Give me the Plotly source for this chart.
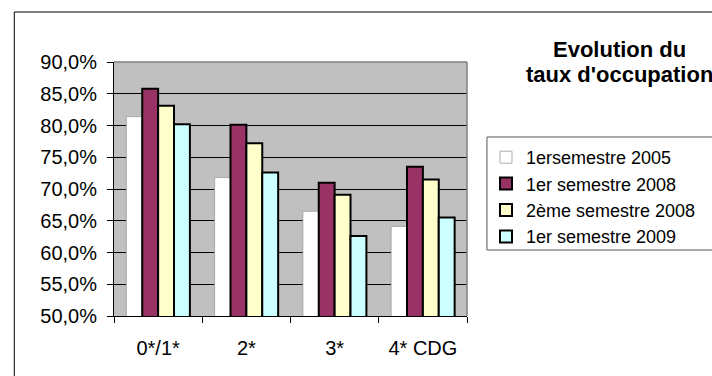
import plotly.graph_objects as go

# Hotel categories and occupancy rates (fractions) per period
categories = ["0*/1*", "2*", "3*", "4* CDG"]
series_names = ["1ersemestre 2005", "1er semestre 2008", "2ème semestre 2008", "1er semestre 2009"]
s2005_1 = [0.814, 0.718, 0.665, 0.641]
s2008_1 = [0.858, 0.801, 0.710, 0.735]
s2008_2 = [0.831, 0.772, 0.691, 0.715]
s2009_1 = [0.802, 0.726, 0.626, 0.655]
y_ticks = [0.50, 0.55, 0.60, 0.65, 0.70, 0.75, 0.80, 0.85, 0.90]
title_lines = ["Evolution du", "taux d'occupation"]

FONT = "Liberation Sans, Arial, sans-serif"
W, H = 712, 376
L, R, T, B = 114, 244, 62, 60
PW, PH = W - L - R, H - T - B


def px_x(x):
    return (x - L) / PW


def px_y(y):
    return (H - B - y) / PH


fills = ["#FFFFFF", "#993366", "#FFFFCC", "#CCFFFF"]
edges = ["#9A9A9A", "#000000", "#000000", "#000000"]
edge_w = [0.8, 2, 2, 2]
values = [s2005_1, s2008_1, s2008_2, s2009_1]

fig = go.Figure()
for name, vals, fc, ec, ew in zip(series_names, values, fills, edges, edge_w):
    fig.add_trace(go.Bar(
        x=categories, y=vals, name=name,
        marker=dict(color=fc, line=dict(color=ec, width=ew)),
        hoverinfo="skip",
    ))

shapes = [
    # outer chart frame
    dict(type="rect", xref="paper", yref="paper",
         x0=px_x(14), x1=px_x(760), y0=px_y(12), y1=px_y(420),
         line=dict(color="#000000", width=1), fillcolor="rgba(0,0,0,0)", layer="above"),
    # plot-area border (top and right)
    dict(type="line", xref="paper", yref="paper", x0=0, x1=1, y0=1, y1=1,
         line=dict(color="#808080", width=1.5), layer="above"),
    dict(type="line", xref="paper", yref="paper", x0=1, x1=1, y0=0, y1=1,
         line=dict(color="#808080", width=1.5), layer="above"),
    # legend box
    dict(type="rect", xref="paper", yref="paper",
         x0=px_x(488), x1=px_x(760), y0=px_y(250), y1=px_y(137),
         line=dict(color="#555555", width=1), fillcolor="rgba(0,0,0,0)", layer="above"),
]

# two-line bold title, right of the plot area
annotations = [
    dict(text="<b>%s</b>" % line, xref="paper", yref="paper",
         x=px_x(621), y=px_y(yc), xanchor="center", yanchor="middle",
         showarrow=False, font=dict(family=FONT, size=22, color="#000000"))
    for line, yc in zip(title_lines, [49, 74])
]

fig.update_layout(
    width=W, height=H,
    margin=dict(l=L, r=R, t=T, b=B, pad=0),
    paper_bgcolor="#FFFFFF",
    plot_bgcolor="#C0C0C0",
    barmode="group", bargap=0.28, bargroupgap=0,
    separators=", ",
    font=dict(family=FONT, color="#000000"),
    showlegend=True,
    legend=dict(
        x=px_x(486), y=px_y(139), xanchor="left", yanchor="top",
        font=dict(family=FONT, size=18, color="#000000"),
        bgcolor="rgba(0,0,0,0)", borderwidth=0,
        itemwidth=30, tracegroupgap=0,
    ),
    shapes=shapes,
    annotations=annotations,
)

fig.update_xaxes(
    type="category", tickson="boundaries",
    ticks="outside", ticklen=6, tickcolor="#000000", tickwidth=1,
    showline=True, linecolor="#000000", linewidth=1,
    showgrid=False, ticklabelstandoff=14,
    tickfont=dict(family=FONT, size=20),
)
fig.update_yaxes(
    range=[0.50, 0.90], tickvals=y_ticks, tickformat=".1%",
    ticks="outside", ticklen=6, tickcolor="#000000", tickwidth=1,
    showline=True, linecolor="#000000", linewidth=1,
    showgrid=True, gridcolor="#000000", gridwidth=1, zeroline=False,
    ticklabelstandoff=6,
    tickfont=dict(family=FONT, size=20),
)

fig.write_html("out.html")
